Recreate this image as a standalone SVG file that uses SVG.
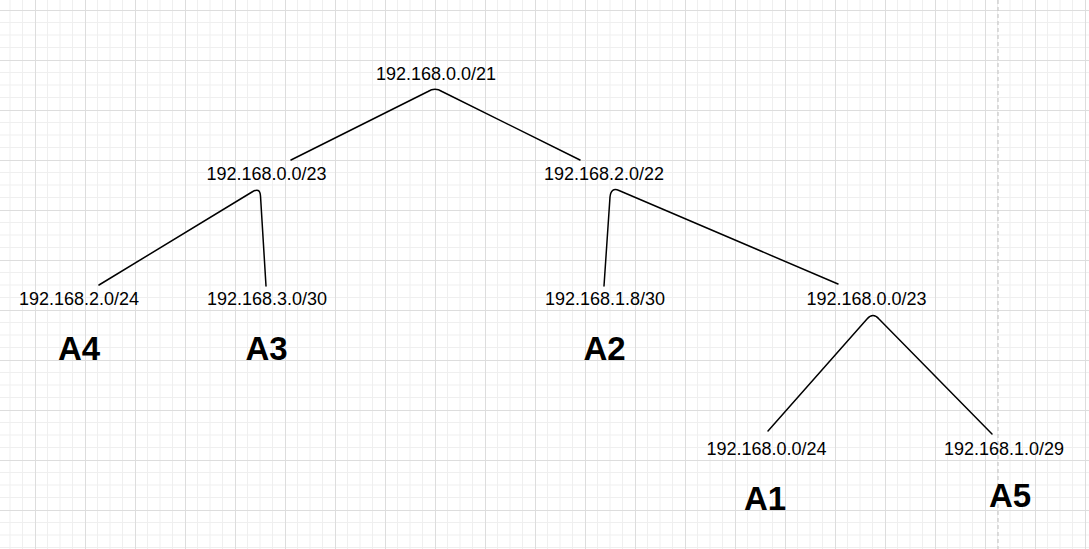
<svg xmlns="http://www.w3.org/2000/svg" width="1089" height="549" viewBox="0 0 1089 549">
  <defs>
    <pattern id="grid" patternUnits="userSpaceOnUse" x="35" y="10" width="50" height="50">
      <path d="M12.5 0V50M25 0V50M37.5 0V50M0 12.5H50M0 25H50M0 37.5H50" stroke="#efefef" stroke-width="1" fill="none"/>
      <path d="M0.5 0V50M0 0.5H50" stroke="#dddddd" stroke-width="1" fill="none"/>
    </pattern>
    <style>
      .ip { font-family: "Liberation Sans", Arial, sans-serif; font-size: 18px; fill: #000; text-anchor: middle; }
      .lab { font-family: "Liberation Sans", Arial, sans-serif; font-size: 33px; font-weight: bold; fill: #000; text-anchor: middle; }
      .edge { fill: none; stroke: #000; stroke-width: 1.5; stroke-linejoin: round; stroke-linecap: round; }
    </style>
  </defs>
  <rect x="0" y="0" width="1089" height="549" fill="#ffffff"/>
  <rect x="0" y="0" width="1089" height="549" fill="url(#grid)"/>
  <line x1="998" y1="0" x2="998" y2="549" stroke="#c8c8c8" stroke-width="1.2" stroke-dasharray="4 3"/>

  <g id="connectors">
    <path class="edge" d="M291 160 L428 91.5 Q435 87 442 91.5 L580 160"/>
    <path class="edge" d="M99 285 L252 192 Q260 187 260.5 196 L266 286"/>
    <path class="edge" d="M604 286 L610 197 Q611 187 619 190.5 L838 284"/>
    <path class="edge" d="M768 431 L867 319 Q873 312 879 319 L992 434"/>
  </g>

  <g id="n-root"><text class="ip" x="436" y="80">192.168.0.0/21</text></g>
  <g id="n-l1"><text class="ip" x="266.5" y="180">192.168.0.0/23</text></g>
  <g id="n-r1"><text class="ip" x="604" y="180">192.168.2.0/22</text></g>
  <g id="n-a4"><text class="ip" x="79" y="305">192.168.2.0/24</text><text class="lab" x="79" y="359.5">A4</text></g>
  <g id="n-a3"><text class="ip" x="267" y="305">192.168.3.0/30</text><text class="lab" x="266.5" y="359.5">A3</text></g>
  <g id="n-a2"><text class="ip" x="605" y="305">192.168.1.8/30</text><text class="lab" x="604.5" y="359.5">A2</text></g>
  <g id="n-r2"><text class="ip" x="866.5" y="305">192.168.0.0/23</text></g>
  <g id="n-a1"><text class="ip" x="766.5" y="455">192.168.0.0/24</text><text class="lab" x="765" y="509.5">A1</text></g>
  <g id="n-a5"><text class="ip" x="1004" y="455">192.168.1.0/29</text><text class="lab" x="1010" y="507">A5</text></g>
</svg>
